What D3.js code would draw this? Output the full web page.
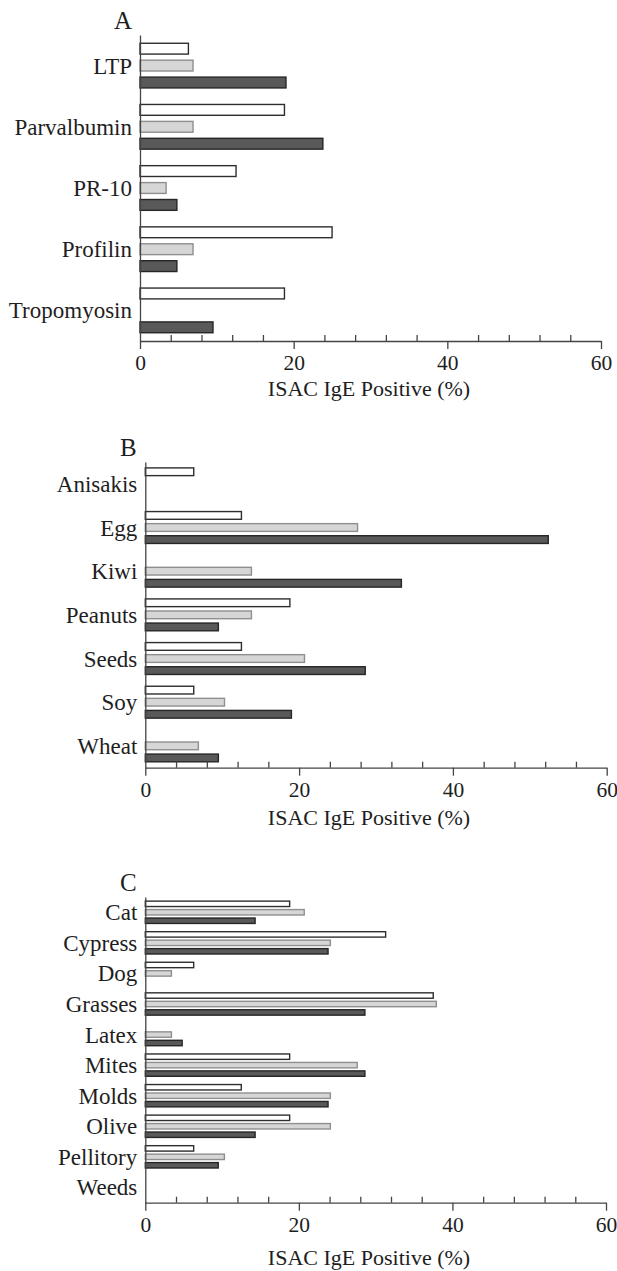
<!DOCTYPE html>
<html lang="en">
<head>
<meta charset="utf-8">
<title>ISAC IgE Positive</title>
<style>
  body {
    margin: 0;
    padding: 0;
    background: #fff;
    overflow: hidden;
  }
  svg {
    display: block;
    font-family: "Liberation Serif", "Times New Roman", serif;
  }
  .lbl { font-size: 23px; fill: #1e1e1e; }
  .tick text { font-size: 21.5px; fill: #1e1e1e; font-family: "Liberation Serif", "Times New Roman", serif; }
  .axis path, .axis line { stroke: #444; stroke-width: 1.3; }
</style>
</head>
<body>
<svg id="chart" width="617" height="1271"></svg>
<script src="https://cdnjs.cloudflare.com/ajax/libs/d3/7.8.5/d3.min.js"></script>
<script>
// series order: white, light grey, dark grey
var seriesKeys = ['s1', 's2', 's3'];
var seriesFill = ['#ffffff', '#d6d6d6', '#595959'];
var seriesStroke = ['#2e2e2e', '#8f8f8f', '#262626'];

var majorTicks = [0, 20, 40, 60];
var minorTicks = [4, 8, 12, 16, 24, 28, 32, 36, 44, 48, 52, 56];

// panel A
var catsA = ['LTP', 'Parvalbumin', 'PR-10', 'Profilin', 'Tropomyosin'];
var s1A = [6.3, 18.8, 12.5, 25.0, 18.8];
var s2A = [6.9, 6.9, 3.4, 6.9, 0];
var s3A = [19.0, 23.8, 4.8, 4.8, 9.5];

// panel B
var catsB = ['Anisakis', 'Egg', 'Kiwi', 'Peanuts', 'Seeds', 'Soy', 'Wheat'];
var s1B = [6.3, 12.5, 0, 18.8, 12.5, 6.3, 0];
var s2B = [0, 27.6, 13.8, 13.8, 20.7, 10.3, 6.9];
var s3B = [0, 52.4, 33.3, 9.5, 28.6, 19.0, 9.5];

// panel C
var catsC = ['Cat', 'Cypress', 'Dog', 'Grasses', 'Latex', 'Mites', 'Molds', 'Olive', 'Pellitory', 'Weeds'];
var s1C = [18.8, 31.3, 6.3, 37.5, 0, 18.8, 12.5, 18.8, 6.3, 0];
var s2C = [20.7, 24.1, 3.4, 37.9, 3.4, 27.6, 24.1, 24.1, 10.3, 0];
var s3C = [14.3, 23.8, 0, 28.6, 4.8, 28.6, 23.8, 14.3, 9.5, 0];

var svg = d3.select('#chart');

function drawPanel(letter, cats, vals, box) {
  var g = svg.append('g');

  var x = d3.scaleLinear().domain([0, 60]).range([box.left, box.right]);
  var y0 = d3.scaleBand().domain(cats).range([box.top, box.bottom])
    .paddingInner(0.27).paddingOuter(0.135);
  var y1 = d3.scaleBand().domain(seriesKeys).range([0, y0.bandwidth()])
    .paddingInner(0.36);

  // bars
  cats.forEach(function (c, i) {
    seriesKeys.forEach(function (k, j) {
      var v = vals[j][i];
      if (!v) return;
      g.append('rect')
        .attr('x', x(0))
        .attr('y', y0(c) + y1(k))
        .attr('width', x(v) - x(0))
        .attr('height', y1.bandwidth())
        .attr('fill', seriesFill[j])
        .attr('stroke', seriesStroke[j])
        .attr('stroke-width', 1.4);
    });
  });

  // x axis: minor ticks point up, major ticks point down
  g.append('g')
    .attr('class', 'axis')
    .attr('transform', 'translate(0,' + box.bottom + ')')
    .call(d3.axisBottom(x).tickValues(minorTicks).tickSize(-6).tickSizeOuter(0).tickFormat(''))
    .select('.domain').remove();

  g.append('g')
    .attr('class', 'axis')
    .attr('transform', 'translate(0,' + box.bottom + ')')
    .call(d3.axisBottom(x).tickValues(majorTicks).tickSize(8).tickSizeOuter(0).tickPadding(6).tickFormat(d3.format('d')));

  // y axis line + category labels
  g.append('g')
    .attr('class', 'axis')
    .attr('transform', 'translate(' + box.left + ',0)')
    .call(d3.axisLeft(y0).tickSize(0).tickSizeOuter(0).tickFormat(''));

  g.selectAll('text.lbl')
    .data(cats)
    .enter().append('text')
    .attr('class', 'lbl')
    .attr('x', box.left - 8)
    .attr('y', function (d) { return y0(d) + y0.bandwidth() / 2; })
    .attr('dy', '0.35em')
    .attr('text-anchor', 'end')
    .text(function (d) { return d; });

  // panel letter
  g.append('text')
    .attr('x', box.left - 17)
    .attr('y', box.top - 6)
    .attr('text-anchor', 'middle')
    .style('font-size', '25px')
    .style('fill', '#1e1e1e')
    .text(letter);

  // axis title
  g.append('text')
    .attr('x', 369)
    .attr('y', box.bottom + box.titleOff)
    .attr('text-anchor', 'middle')
    .style('font-size', '22px')
    .style('fill', '#1e1e1e')
    .text('ISAC IgE Positive (%)');
}

drawPanel('A', catsA, [s1A, s2A, s3A], {left: 140, right: 601, top: 35, bottom: 341, titleOff: 55});
drawPanel('B', catsB, [s1B, s2B, s3B], {left: 145.3, right: 606.7, top: 462, bottom: 767.7, titleOff: 57});
drawPanel('C', catsC, [s1C, s2C, s3C], {left: 145.3, right: 606, top: 897, bottom: 1202.7, titleOff: 62});
</script>
</body>
</html>
